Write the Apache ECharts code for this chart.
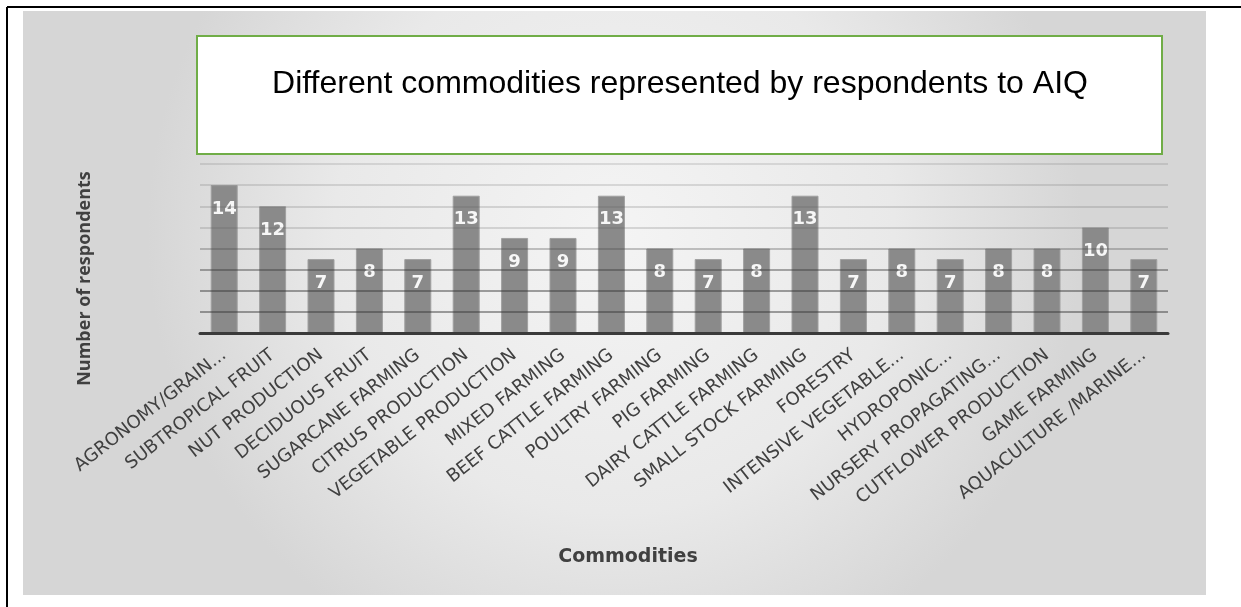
<!DOCTYPE html>
<html>
<head>
<meta charset="utf-8">
<script src="https://cdn.jsdelivr.net/npm/echarts@6/dist/echarts.min.js"></script>
<style>
  html, body { margin: 0; padding: 0; background: #ffffff; }
  #chart { width: 1241px; height: 607px; }
</style>
</head>
<body>
<div id="chart"></div>
<script>
// Commodity categories along the horizontal axis
const commodities = [
  'AGRONOMY/GRAIN...', 'SUBTROPICAL FRUIT', 'NUT PRODUCTION', 'DECIDUOUS FRUIT',
  'SUGARCANE FARMING', 'CITRUS PRODUCTION', 'VEGETABLE PRODUCTION', 'MIXED FARMING',
  'BEEF CATTLE FARMING', 'POULTRY FARMING', 'PIG FARMING', 'DAIRY CATTLE FARMING',
  'SMALL STOCK FARMING', 'FORESTRY', 'INTENSIVE VEGETABLE...', 'HYDROPONIC...',
  'NURSERY PROPAGATING...', 'CUTFLOWER PRODUCTION', 'GAME FARMING', 'AQUACULTURE /MARINE...'
];

// Number of respondents per commodity
const respondents = [14, 12, 7, 8, 7, 13, 9, 9, 13, 8, 7, 8, 13, 7, 8, 7, 8, 8, 10, 7];

// Value axis range (no tick labels are shown, only gridlines)
const yMin = 0;
const yMax = 16;
const yStep = 2;

const chartTitle = 'Different commodities represented by respondents to AIQ';
const yAxisTitle = 'Number of respondents';
const xAxisTitle = 'Commodities';

// gridline shades, from the baseline upward (lower lines read darker)
const gridShades = [
  'rgba(0,0,0,0)',
  'rgba(50,50,50,0.45)', 'rgba(50,50,50,0.45)', 'rgba(50,50,50,0.4)',
  'rgba(70,70,70,0.3)', 'rgba(90,90,90,0.2)', 'rgba(90,90,90,0.2)',
  'rgba(90,90,90,0.18)', 'rgba(90,90,90,0.16)'
];

const chart = echarts.init(document.getElementById('chart'), null, { renderer: 'canvas' });

const option = {
  backgroundColor: '#ffffff',
  animation: false,
  graphic: [
    // outer frame
    { type: 'line', z: 0, shape: { x1: 7, y1: 7, x2: 1241, y2: 7 }, style: { stroke: '#000', lineWidth: 2 } },
    { type: 'line', z: 0, shape: { x1: 7, y1: 7, x2: 7, y2: 607 }, style: { stroke: '#000', lineWidth: 2 } },
    // chart panel with soft gradient
    {
      type: 'rect', z: -10, silent: true,
      shape: { x: 23, y: 11, width: 1183, height: 584 },
      style: {
        fill: {
          type: 'radial', x: 0.5, y: 0.38, r: 0.8,
          colorStops: [
            { offset: 0, color: '#f4f4f4' },
            { offset: 0.6, color: '#e9e9e9' },
            { offset: 1, color: '#d6d6d6' }
          ]
        }
      }
    },
    // title box
    {
      type: 'rect', z: 10,
      shape: { x: 197, y: 36, width: 965, height: 118 },
      style: { fill: '#ffffff', stroke: '#70ad47', lineWidth: 2 }
    },
    {
      type: 'text', z: 11,
      x: 680, y: 84,
      style: {
        text: chartTitle,
        fill: '#000000',
        font: '32px "Liberation Sans", Arial, sans-serif',
        align: 'center',
        verticalAlign: 'middle'
      }
    }
  ],
  grid: { left: 200, right: 73, top: 164, bottom: 274, containLabel: false },
  xAxis: {
    type: 'category',
    data: commodities,
    name: xAxisTitle,
    nameLocation: 'middle',
    nameGap: 215,
    nameTextStyle: {
      fontFamily: '"DejaVu Sans", sans-serif',
      fontWeight: 'bold',
      fontSize: 19,
      color: '#404040',
      padding: [0, 112, 0, 0]
    },
    axisLine: { show: true, lineStyle: { color: '#3a3a3a', width: 3 } },
    axisTick: { show: false },
    axisLabel: {
      interval: 0,
      rotate: 38,
      margin: 20,
      fontFamily: '"DejaVu Sans", sans-serif',
      fontSize: 18,
      color: '#404040'
    },
    z: 4
  },
  yAxis: {
    type: 'value',
    min: yMin,
    max: yMax,
    interval: yStep,
    name: yAxisTitle,
    nameLocation: 'middle',
    nameRotate: 90,
    nameGap: 106,
    nameTextStyle: {
      fontFamily: '"Open Sans", sans-serif',
      fontWeight: 'bold',
      fontSize: 18,
      color: '#404040',
      padding: [0, 60, 0, 0]
    },
    axisLine: { show: false },
    axisTick: { show: false },
    axisLabel: { show: false },
    splitLine: { show: true, lineStyle: { color: gridShades, width: 2 } },
    z: 3
  },
  series: [{
    type: 'bar',
    data: respondents,
    barWidth: 27,
    z: 2,
    itemStyle: { color: '#8a8a8a', borderColor: '#a0a0a0', borderWidth: 1 },
    label: {
      show: true,
      position: 'insideTop',
      distance: 15,
      color: '#f7f7f7',
      fontFamily: '"DejaVu Sans", sans-serif',
      fontWeight: 'bold',
      fontSize: 18
    }
  }]
};

chart.setOption(option);
</script>
</body>
</html>
